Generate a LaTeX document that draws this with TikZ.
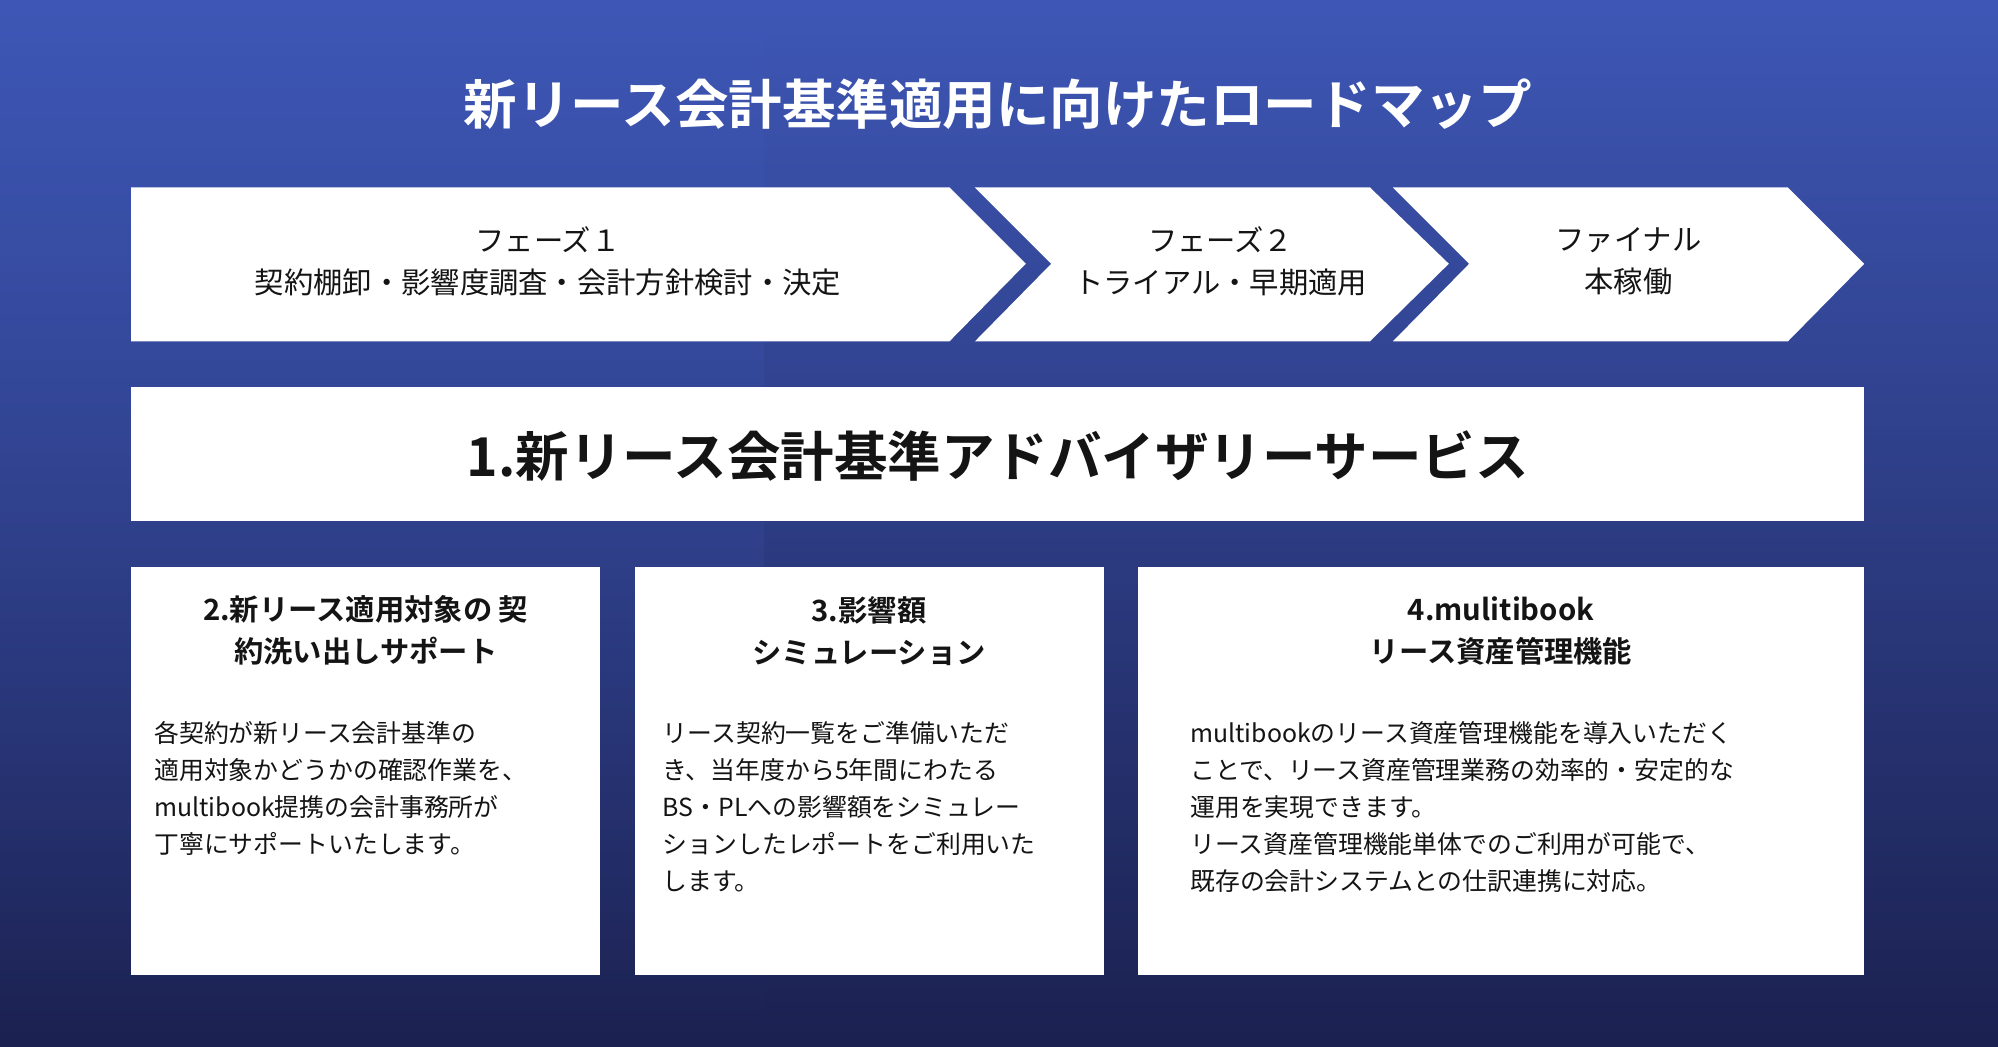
\documentclass[tikz,border=0pt]{standalone}
\usepackage{fontspec}
\usetikzlibrary{fadings}
\setmainfont{Noto Sans CJK JP}
\newfontfamily\jpb{Noto Sans CJK JP Bold}
\definecolor{bgA}{HTML}{3E57B6}
\definecolor{bgB}{HTML}{1B2150}
\definecolor{txt}{HTML}{141414}
\begin{document}
\begin{tikzpicture}[x=1pt,y=-1pt,
  chev/.style={fill=white,draw=none},
  ph/.style={align=center,text=txt,font=\fontsize{23}{33}\selectfont},
  box/.style={fill=white,draw=none},
  btitle/.style={align=center,text=txt,font=\jpb\fontsize{23}{33}\selectfont},
  body/.style={anchor=north west,align=left,text=txt,font=\fontsize{19.5}{29}\selectfont,inner sep=0pt}]
\useasboundingbox (0,0) rectangle (1568,821);
\shade[left color=bgA,right color=bgB,shading angle=0] (0,0) rectangle (1568,821);
\fill[bgA,opacity=0.35,path fading=south] (0,0) rectangle (600,821);
\node[text=white,font=\jpb\fontsize{42}{50}\selectfont] (title) at (783,82) {新リース会計基準適用に向けたロードマップ};
% chevrons
\fill[chev] (103,147) -- (745,147) -- (805,207) -- (745,268) -- (103,268) -- cycle;
\fill[chev] (765,147) -- (1075,147) -- (1137,207) -- (1075,268) -- (765,268) -- (825,207) -- cycle;
\fill[chev] (1093,147) -- (1403,147) -- (1463,207) -- (1403,268) -- (1093,268) -- (1153,207) -- cycle;
\node[ph] (p1) at (430,205) {フェーズ１\\契約棚卸・影響度調査・会計方針検討・決定};
\node[ph] (p2) at (958,205) {フェーズ２\\トライアル・早期適用};
\node[ph] (p3) at (1278,205) {ファイナル\\本稼働};
% big box
\fill[box] (103,304) rectangle (1463,409);
\node[text=txt,font=\jpb\fontsize{42}{50}\selectfont] (svc) at (783,358) {1.新リース会計基準アドバイザリーサービス};
% boxes
\fill[box] (103,445) rectangle (471,765);
\fill[box] (498,445) rectangle (866,765);
\fill[box] (893,445) rectangle (1463,765);
\node[btitle] (t1) at (287,495) {2.新リース適用対象の 契\\約洗い出しサポート};
\node[btitle] (t2) at (682,495) {3.影響額\\シミュレーション};
\node[btitle] (t3) at (1178,495) {4.mulitibook\\リース資産管理機能};
\node[body] (b1) at (121,566) {各契約が新リース会計基準の\\適用対象かどうかの確認作業を、\\multibook提携の会計事務所が\\丁寧にサポートいたします。};
\node[body] (b2) at (520,566) {リース契約一覧をご準備いただ\\き、当年度から5年間にわたる\\BS・PLへの影響額をシミュレー\\ションしたレポートをご利用いた\\します。};
\node[body] (b3) at (934,566) {multibookのリース資産管理機能を導入いただく\\ことで、リース資産管理業務の効率的・安定的な\\運用を実現できます。\\ リース資産管理機能単体でのご利用が可能で、\\既存の会計システムとの仕訳連携に対応。};
\end{tikzpicture}
\end{document}
